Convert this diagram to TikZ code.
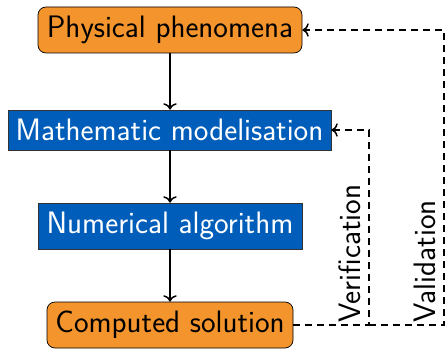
\documentclass[tikz,border=0pt]{standalone}
\usetikzlibrary{calc,arrows.meta}
\renewcommand{\familydefault}{\sfdefault}
\definecolor{boxorange}{RGB}{243,148,45}
\definecolor{boxblue}{RGB}{0,94,186}
\begin{document}
\begin{tikzpicture}[x=1pt,y=1pt,
  every node/.style={font=\fontsize{31}{36}\selectfont\sffamily},
  realbox/.style={draw=black, line width=0.7pt, fill=boxorange, rounded corners=8pt,
    inner sep=0pt, text=black},
  modelbox/.style={draw=black!80, line width=0.7pt, fill=boxblue, inner sep=0pt, text=white},
  flow/.style={-{To[scale=1.3]}, line width=1.5pt},
  check/.style={-{To[scale=1.3]}, line width=1.5pt, dash pattern=on 7pt off 5pt},
  lbl/.style={rotate=90, anchor=base west, inner sep=0pt}]
  \useasboundingbox (0,0) rectangle (445,349);

  % main chain
  \node[realbox, minimum width=264pt, minimum height=46pt] (phys) at (170,319) {Physical phenomena};
  \node[modelbox, minimum width=323pt, minimum height=40pt] (math) at (169.5,219) {Mathematic modelisation};
  \node[modelbox, minimum width=264pt, minimum height=46pt] (num) at (170,123) {Numerical algorithm};
  \node[realbox, minimum width=246pt, minimum height=46pt] (comp) at (170,24) {Computed solution};

  \draw[flow] (phys.south) -- (phys.south |- math.north);
  \draw[flow] (num.north |- math.south) -- (num.north);
  \draw[flow] (num.south) -- (comp.north);

  % feedback loops
  \coordinate (vx) at (369,24);
  \coordinate (wx) at (444,24);
  \draw[check] (comp.east) -- (vx) |- (math.east);
  \draw[check] (vx) -- (wx) |- (phys.east);

  \node[lbl] (ver) at (360,26) {Verification};
  \node[lbl] (val) at (435,26) {Validation};
\end{tikzpicture}
\end{document}
